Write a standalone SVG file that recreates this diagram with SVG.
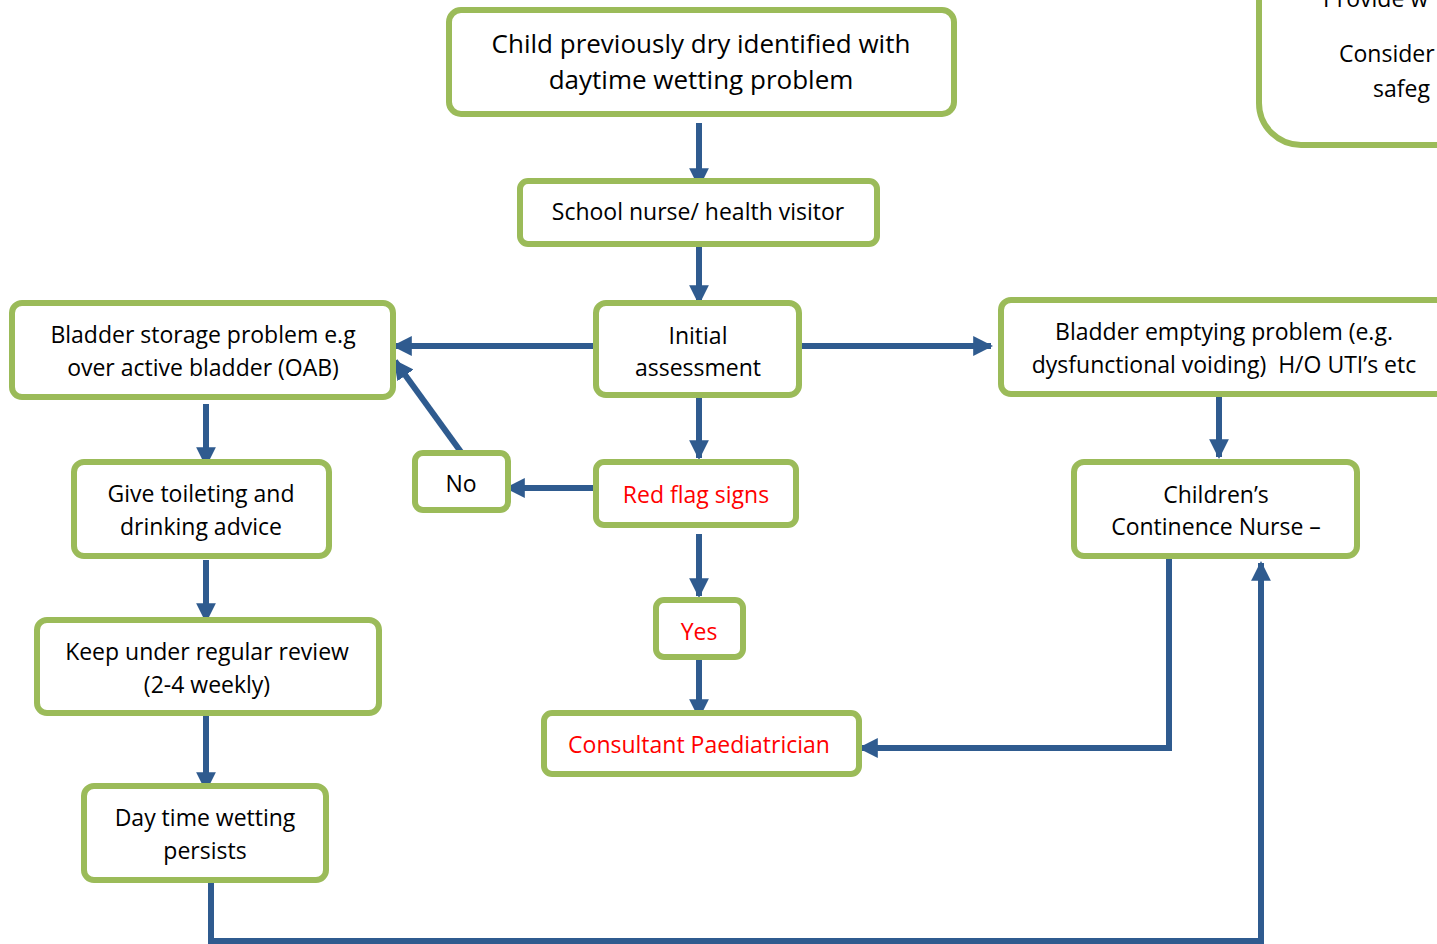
<svg xmlns="http://www.w3.org/2000/svg" width="1437" height="944" viewBox="0 0 1437 944">
<defs>
<marker id="ah" viewBox="0 0 10 10" refX="9" refY="5" markerWidth="3.3" markerHeight="3.3" orient="auto" markerUnits="strokeWidth">
<path d="M0,0 L10,5 L0,10 z" fill="#2F5B8F"/>
</marker>
</defs>
<style>
.box{fill:#fff;stroke:#9BBB59;stroke-width:6}
.t{font-family:"Open Sans","Liberation Sans",sans-serif;font-size:23px;fill:#000;text-anchor:middle}
.big{font-size:26px}
.s{text-anchor:start}
.r{fill:#FF0000}
.c{fill:none;stroke:#2F5B8F;stroke-width:6}
.a{marker-end:url(#ah)}
</style>
<rect width="1437" height="944" fill="#fff"/>
<g id="connectors">
<line class="c a" x1="699" y1="123" x2="699" y2="186"/>
<line class="c a" x1="699" y1="244" x2="699" y2="303"/>
<line class="c a" x1="596" y1="346" x2="394" y2="346"/>
<line class="c a" x1="799" y1="346" x2="991" y2="346"/>
<line class="c a" x1="699" y1="395" x2="699" y2="458"/>
<line class="c a" x1="1219" y1="396" x2="1219" y2="457"/>
<line class="c a" x1="596" y1="488" x2="507" y2="488"/>
<line class="c a" x1="461" y1="452" x2="395" y2="361"/>
<line class="c a" x1="699" y1="534" x2="699" y2="596"/>
<line class="c a" x1="699" y1="657" x2="699" y2="717"/>
<polyline class="c a" points="1169,556 1169,748 860,748"/>
<line class="c a" x1="206" y1="404" x2="206" y2="465"/>
<line class="c a" x1="206" y1="560" x2="206" y2="621"/>
<line class="c a" x1="206" y1="713" x2="206" y2="790"/>
<polyline class="c a" points="211,880 211,941 1261,941 1261,563"/>
</g>
<g id="n-topright">
<rect class="box" x="1259" y="-60" width="260" height="205" rx="42" stroke-width="8"/>
<text class="t s" x="1323" y="7">Provide w</text>
<text class="t s" x="1339" y="62">Consider</text>
<text class="t s" x="1373" y="97">safeg</text>
</g>
<g id="n-child">
<rect class="box" x="449" y="10" width="505" height="104" rx="12" stroke-width="7"/>
<text class="t big" x="701" y="53">Child previously dry identified with</text>
<text class="t big" x="701" y="89">daytime wetting problem</text>
</g>
<g id="n-school">
<rect class="box" x="520" y="181" width="357" height="63" rx="8"/>
<text class="t" x="698" y="220">School nurse/ health visitor</text>
</g>
<g id="n-initial">
<rect class="box" x="596" y="303" width="203" height="92" rx="10"/>
<text class="t" x="698" y="344">Initial</text>
<text class="t" x="698" y="376">assessment</text>
</g>
<g id="n-storage">
<rect class="box" x="12" y="303" width="381" height="94" rx="10"/>
<text class="t" x="203" y="343">Bladder storage problem e.g</text>
<text class="t" x="203" y="376">over active bladder (OAB)</text>
</g>
<g id="n-emptying">
<rect class="box" x="1001" y="300" width="460" height="94" rx="10"/>
<text class="t" x="1224" y="340">Bladder emptying problem (e.g.</text>
<text class="t" x="1224" y="373" xml:space="preserve">dysfunctional voiding)  H/O UTI’s etc</text>
</g>
<g id="n-nurse">
<rect class="box" x="1074" y="462" width="283" height="94" rx="10"/>
<text class="t" x="1216" y="503">Children’s</text>
<text class="t" x="1216" y="535">Continence Nurse –</text>
</g>
<g id="n-redflag">
<rect class="box" x="596" y="462" width="200" height="63" rx="8"/>
<text class="t r" x="696" y="503">Red flag signs</text>
</g>
<g id="n-no">
<rect class="box" x="415" y="453" width="93" height="57" rx="8"/>
<text class="t" x="461" y="492">No</text>
</g>
<g id="n-yes">
<rect class="box" x="656" y="600" width="87" height="57" rx="8"/>
<text class="t r" x="699" y="640">Yes</text>
</g>
<g id="n-consultant">
<rect class="box" x="544" y="713" width="315" height="61" rx="8"/>
<text class="t r" x="699" y="753">Consultant Paediatrician</text>
</g>
<g id="n-toileting">
<rect class="box" x="74" y="462" width="255" height="94" rx="10"/>
<text class="t" x="201" y="502">Give toileting and</text>
<text class="t" x="201" y="535">drinking advice</text>
</g>
<g id="n-review">
<rect class="box" x="37" y="620" width="342" height="93" rx="10"/>
<text class="t" x="207" y="660">Keep under regular review</text>
<text class="t" x="207" y="693">(2-4 weekly)</text>
</g>
<g id="n-persists">
<rect class="box" x="84" y="786" width="242" height="94" rx="10"/>
<text class="t" x="205" y="826">Day time wetting</text>
<text class="t" x="205" y="859">persists</text>
</g>
</svg>
